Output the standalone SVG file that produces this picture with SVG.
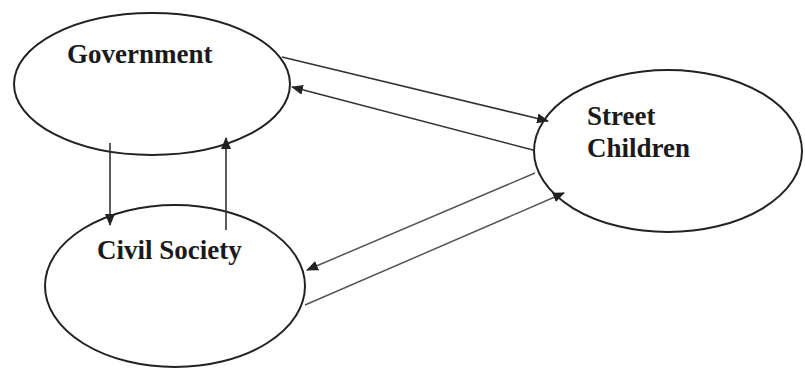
<svg xmlns="http://www.w3.org/2000/svg" width="805" height="371" viewBox="0 0 805 371">
<style>
.node ellipse{fill:#fff;stroke:#222;stroke-width:2}
.lbl{font-family:"Liberation Serif","Times New Roman",serif;font-weight:bold;font-size:27px;fill:#1a1a1a}
.c line{stroke:#333;stroke-width:1.6;marker-end:url(#ah)}
.c .light{stroke:#555;stroke-width:1.5}
</style>
<defs>
<marker id="ah" viewBox="0 0 12 10" refX="11" refY="5" markerWidth="12" markerHeight="10" markerUnits="userSpaceOnUse" orient="auto">
<path d="M0,0 L12,5 L0,10 Z" fill="#222"/>
</marker>
</defs>
<rect width="805" height="371" fill="#fff"/>
<g id="government" class="node">
<ellipse cx="152" cy="84" rx="138" ry="71"/>
<text class="lbl" x="67" y="63">Government</text>
</g>
<g id="civil-society" class="node">
<ellipse cx="175" cy="286" rx="130" ry="81"/>
<text class="lbl" x="97" y="259">Civil Society</text>
</g>
<g id="street-children" class="node">
<ellipse cx="668" cy="151" rx="134" ry="81"/>
<text class="lbl" x="587" y="125">Street</text>
<text class="lbl" x="587" y="157">Children</text>
</g>
<g id="connectors" class="c">
<line x1="110" y1="143" x2="110" y2="225"/>
<line x1="226" y1="230" x2="226" y2="138"/>
<line x1="282" y1="57" x2="548" y2="121"/>
<line x1="533" y1="150" x2="292" y2="87"/>
<line class="light" x1="535" y1="173" x2="307" y2="270"/>
<line class="light" x1="305" y1="305" x2="564" y2="193"/>
</g>
</svg>
